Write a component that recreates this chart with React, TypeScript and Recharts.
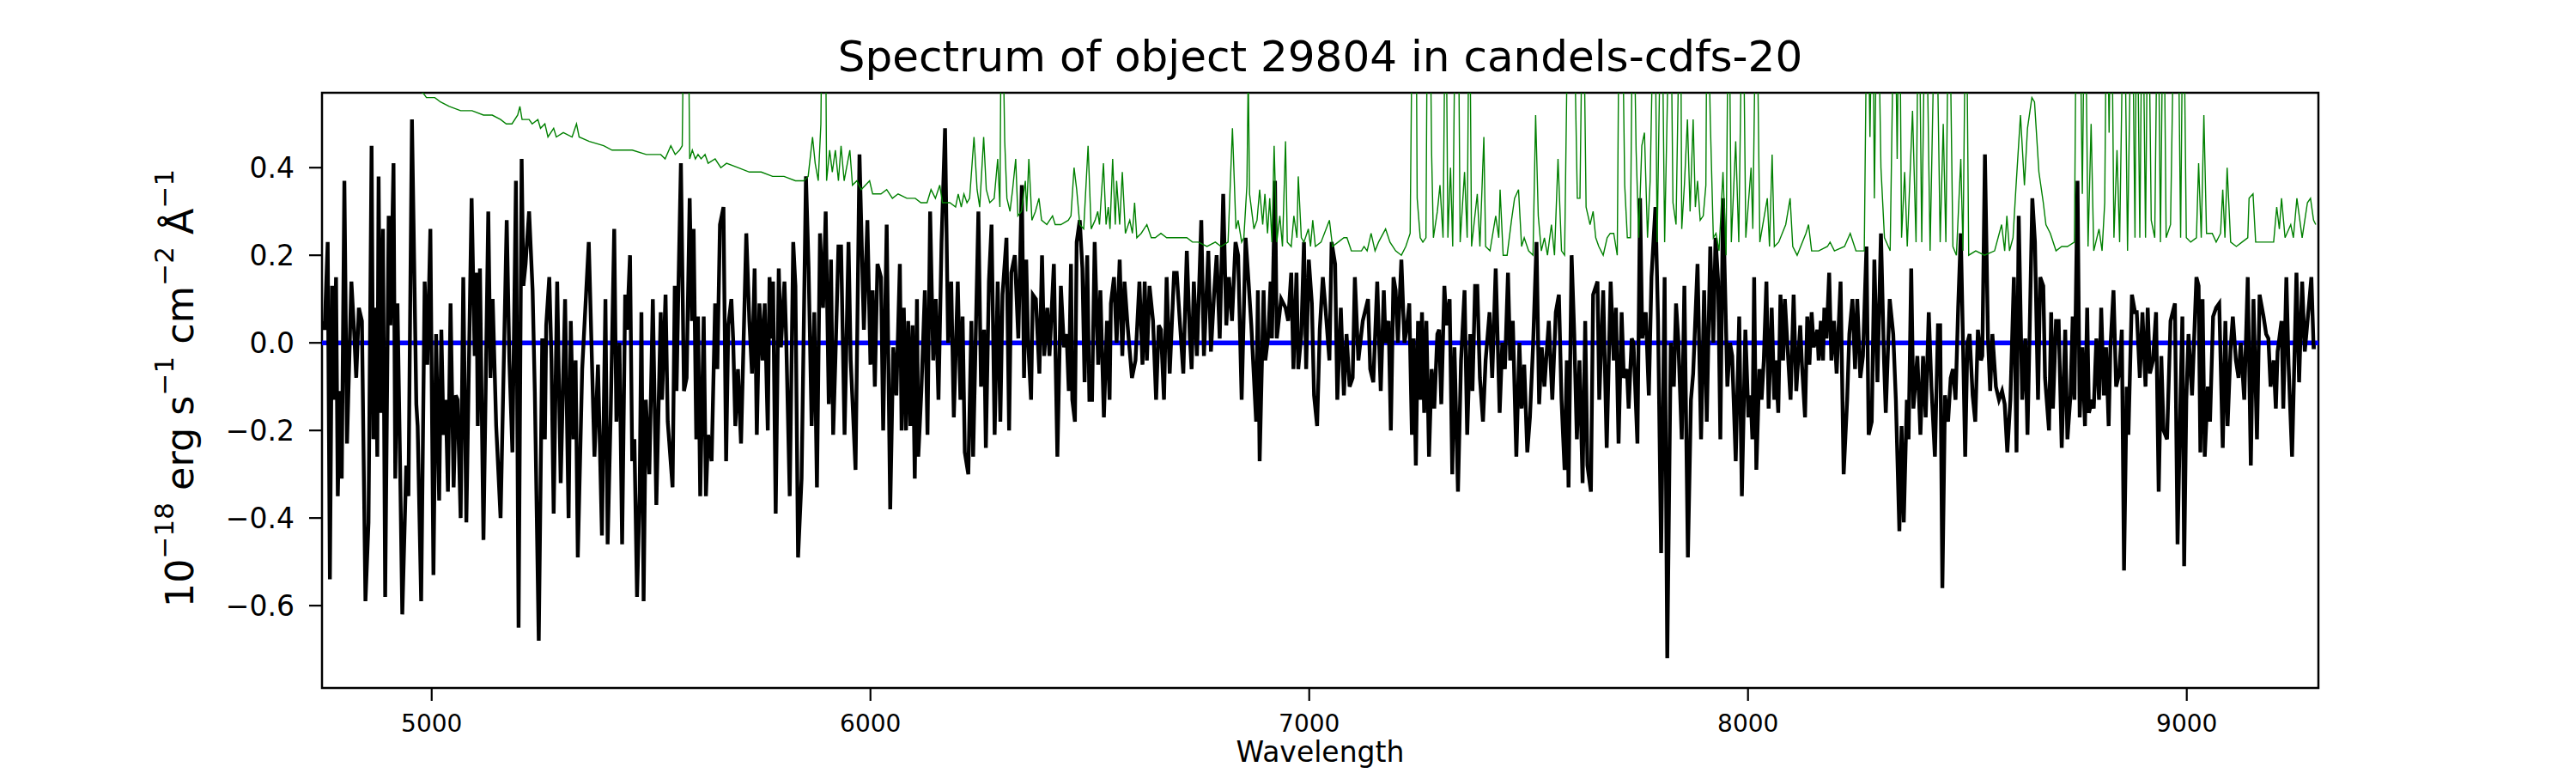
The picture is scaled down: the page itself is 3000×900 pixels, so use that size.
import { LineChart, Line, XAxis, YAxis, ReferenceArea } from "recharts";

const FONT = "DejaVu Sans";

// observed flux (black), 10^-18 erg/s/cm^2/A
const fluxWave = [
  4753, 4756, 4763, 4768, 4773, 4777, 4782, 4786, 4791, 4795,
  4801, 4807, 4817, 4823, 4828, 4834, 4841, 4849, 4856, 4863,
  4867, 4872, 4876, 4879, 4883, 4889, 4894, 4902, 4906, 4913,
  4917, 4922, 4928, 4933, 4942, 4947, 4955, 4965, 4968, 4976,
  4984, 4990, 4997, 5004, 5010, 5017, 5022, 5027, 5032, 5037,
  5043, 5050, 5055, 5059, 5066, 5072, 5079, 5091, 5098, 5102,
  5105, 5110, 5118, 5129, 5134, 5139, 5147, 5157, 5171, 5177,
  5184, 5192, 5198, 5205, 5209, 5214, 5222, 5230, 5235, 5244,
  5252, 5258, 5261, 5268, 5273, 5278, 5286, 5294, 5304, 5312,
  5317, 5323, 5328, 5333, 5343, 5358, 5371, 5379, 5388, 5396,
  5401, 5408, 5416, 5421, 5428, 5434, 5441, 5445, 5452, 5457,
  5462, 5468, 5474, 5478, 5483, 5488, 5496, 5504, 5512, 5522,
  5525, 5533, 5538,
  5549, 5554, 5558, 5562, 5568, 5575, 5581, 5588, 5593, 5597,
  5603, 5607, 5612, 5620, 5625, 5630, 5638, 5646, 5651, 5657,
  5665, 5671, 5676, 5683, 5687, 5692, 5698, 5705, 5717, 5724,
  5730, 5736, 5741, 5747, 5754, 5759, 5766, 5770, 5775, 5778,
  5784, 5791, 5796, 5804, 5808, 5816, 5824, 5829, 5835, 5843,
  5853, 5859, 5866, 5872, 5878, 5885, 5892, 5898, 5905, 5910,
  5915, 5920, 5927, 5933, 5941, 5950, 5955, 5966, 5975, 5985,
  5993, 6000, 6005, 6010, 6016, 6024, 6029, 6037, 6045, 6052,
  6059, 6067, 6071, 6076, 6081, 6086, 6091, 6096, 6101, 6106,
  6109, 6116, 6124, 6130, 6136, 6143, 6149, 6155, 6162, 6170,
  6177, 6184, 6190, 6199, 6205, 6210, 6215, 6223, 6230, 6234,
  6246, 6252, 6259, 6263, 6270, 6276, 6283, 6290, 6296, 6301,
  6310, 6316, 6321, 6329, 6337, 6345,
  6350, 6355, 6359, 6366, 6370, 6377, 6385, 6391, 6396, 6403,
  6408, 6418, 6426, 6434, 6441, 6447, 6452, 6457, 6460, 6466,
  6470, 6477, 6483, 6488, 6494, 6499, 6505, 6511, 6519, 6524,
  6532, 6539, 6545, 6548, 6555, 6561, 6568, 6574, 6579, 6586,
  6596, 6604, 6613, 6620, 6625, 6630, 6636, 6644, 6651, 6657,
  6662, 6669, 6675, 6682, 6692, 6698, 6705, 6713, 6721, 6728,
  6732, 6737, 6744, 6754, 6760, 6770, 6776, 6783, 6789, 6796,
  6804, 6811, 6817, 6824, 6832, 6838, 6846, 6855, 6861, 6868,
  6874, 6879, 6883, 6887, 6896, 6900, 6907, 6912, 6915, 6922,
  6926, 6936, 6946, 6952, 6959, 6964, 6971, 6975, 6982, 6988,
  6993, 6999, 7006, 7011, 7018, 7024, 7031, 7037, 7046, 7051,
  7059, 7064, 7072, 7079, 7085, 7092, 7099, 7104, 7112, 7122,
  7134, 7139, 7146,
  7155, 7159, 7163, 7170, 7174, 7181, 7186, 7192, 7197, 7202,
  7210, 7217, 7223, 7228, 7234, 7238, 7243, 7248, 7253, 7257,
  7262, 7267, 7273, 7279, 7285, 7292, 7296, 7301, 7308, 7313,
  7320, 7326, 7331, 7339, 7346, 7354, 7360, 7367, 7372, 7378,
  7383, 7389, 7396, 7402, 7411, 7417, 7425, 7434, 7440, 7446,
  7453, 7458, 7464, 7472, 7479, 7484, 7490, 7497, 7503, 7510,
  7518, 7524, 7530, 7536, 7546, 7554, 7562, 7569, 7575, 7582,
  7587, 7591, 7598, 7604, 7610, 7616, 7623, 7629, 7634, 7642,
  7647, 7657, 7661, 7670, 7678, 7687, 7694, 7699, 7705, 7712,
  7717, 7724, 7728, 7735, 7739, 7748, 7754, 7759, 7767, 7774,
  7780, 7789, 7795, 7802, 7810, 7816, 7824, 7831, 7836, 7841,
  7849, 7855, 7863, 7870, 7875, 7885, 7893, 7900, 7906, 7914,
  7921, 7926, 7932, 7937, 7943,
  7953, 7959, 7964, 7972, 7980, 7986, 7994, 8001, 8006, 8010,
  8014, 8019, 8026, 8031, 8036, 8042, 8047, 8054, 8060, 8063,
  8069, 8074, 8080, 8084, 8089, 8097, 8104, 8110, 8119, 8123,
  8130, 8135, 8140, 8145, 8150, 8158, 8161, 8166, 8171, 8174,
  8179, 8185, 8190, 8196, 8202, 8211, 8218, 8226, 8231, 8238,
  8244, 8249, 8256, 8262, 8270, 8275, 8282, 8288, 8295, 8303,
  8310, 8314, 8323, 8331, 8337, 8345, 8350, 8355, 8362, 8366,
  8372, 8377, 8386, 8393, 8399, 8405, 8412, 8418, 8426, 8433,
  8438, 8443, 8449, 8456, 8462, 8467, 8473, 8479, 8485, 8490,
  8495, 8500, 8505, 8512, 8518, 8524, 8531, 8534, 8540, 8547,
  8552, 8557, 8565, 8572, 8579, 8585, 8591, 8598, 8606, 8612,
  8617, 8625, 8632, 8637, 8642, 8648, 8654, 8661, 8666, 8673,
  8677, 8686, 8691, 8695, 8702, 8708, 8715, 8723, 8728, 8735,
  8740, 8744, 8751,
  8756, 8762, 8768, 8773, 8777, 8784, 8788, 8794, 8800, 8805,
  8811, 8816, 8822, 8826, 8833, 8839, 8846, 8852, 8857, 8863,
  8867, 8875, 8882, 8886, 8893, 8899, 8906, 8911, 8916, 8923,
  8930, 8936, 8942, 8947, 8955, 8963, 8973, 8979, 8986, 8990,
  8994, 8999, 9004, 9012, 9022, 9027, 9031, 9036, 9041, 9048,
  9053, 9060, 9067, 9074, 9082, 9088, 9093, 9100, 9105, 9112,
  9118, 9123, 9131, 9139, 9146, 9152, 9160, 9166, 9175, 9181,
  9186, 9191, 9198, 9203, 9207, 9216, 9220, 9227, 9232, 9240,
  9250, 9256, 9263, 9269, 9277, 9284, 9289, 9294,
];

const fluxValue = [
  0.05, 0.03, 0.23, -0.54, 0.13, -0.13, 0.15, -0.35, -0.11, -0.31,
  0.37, -0.23, 0.14, 0.03, -0.08, 0.08, 0.05, -0.59, -0.41, 0.45,
  -0.22, 0.08, -0.26, 0.38, -0.16, 0.26, -0.58, 0.29, 0.04, 0.41,
  -0.31, 0.09, -0.28, -0.62, -0.28, -0.35, 0.51, -0.14, -0.19, -0.59,
  0.14, -0.05, 0.26, -0.53, 0.02, -0.36, 0.03, -0.21, -0.13, -0.34,
  0.09, -0.33, -0.12, -0.13, -0.4, 0.15, -0.41, 0.33, -0.03, 0.16,
  -0.19, 0.17, -0.45, 0.3, -0.08, 0.1, -0.19, -0.4, 0.28, -0.04,
  -0.25, 0.37, -0.65, 0.42, 0.13, 0.18, 0.3, 0.12, -0.11, -0.68,
  0.01, -0.22, 0.04, 0.15, -0.04, -0.39, 0.14, -0.32, 0.1, -0.4,
  0.05, -0.22, -0.04, -0.49, -0.06, 0.23, -0.26, -0.05, -0.44, 0.1,
  -0.46, -0.16, 0.26, -0.18, 0.0, -0.46, 0.11, 0.03, 0.2, -0.27,
  -0.22, -0.58, -0.34, 0.07, -0.59, -0.13, -0.3, 0.1, -0.37, 0.07,
  -0.13, 0.11, -0.18,
  -0.33, 0.13, -0.11, 0.11, 0.41, -0.11, -0.08, 0.33, 0.05, 0.26,
  -0.22, 0.06, -0.35, 0.06, -0.35, -0.21, -0.27, 0.09, -0.06, 0.27,
  0.31, -0.27, 0.04, 0.1, 0.01, -0.19, -0.06, -0.23, 0.25, 0.05,
  -0.07, 0.17, -0.21, 0.09, -0.04, 0.09, -0.2, 0.15, 0.01, 0.14,
  -0.39, 0.17, -0.01, 0.14, 0.01, -0.35, 0.23, 0.13, -0.49, -0.31,
  0.38, 0.17, -0.19, 0.07, -0.33, 0.25, 0.08, 0.3, -0.14, 0.19,
  -0.21, -0.04, 0.22, 0.22, -0.21, 0.23, -0.04, -0.29, 0.43, 0.03,
  0.28, -0.05, 0.12, -0.1, 0.18, 0.15, -0.2, 0.27, -0.38, -0.01,
  -0.12, 0.18, -0.2, 0.08, -0.2, 0.05, -0.19, 0.04, -0.31, 0.1,
  -0.26, -0.11, 0.12, -0.21, 0.3, -0.04, 0.1, -0.13, 0.23, 0.49,
  0.0, 0.14, -0.17, 0.14, -0.13, 0.06, -0.25, -0.3, 0.05, -0.26,
  0.3, -0.1, 0.03, -0.24, 0.14, 0.27, -0.21, 0.14, -0.18, 0.11,
  0.24, -0.2, 0.16, 0.2, 0.01, 0.36,
  -0.08, 0.19, 0.01, -0.13, 0.11, 0.1, -0.07, 0.2, -0.03, 0.08,
  -0.03, 0.18, -0.26, 0.13, -0.01, 0.02, -0.11, 0.18, -0.13, -0.18,
  0.23, 0.28, 0.17, -0.09, 0.2, -0.13, -0.13, 0.23, -0.05, 0.12,
  -0.17, 0.05, -0.13, 0.09, 0.15, 0.0, 0.19, -0.03, 0.14, 0.04,
  -0.08, -0.04, 0.14, -0.05, 0.14, -0.04, 0.13, 0.05, -0.13, 0.04,
  0.03, -0.13, 0.15, -0.07, 0.16, 0.16, 0.05, -0.07, 0.21, 0.01,
  -0.06, 0.14, -0.03, 0.28, -0.03, 0.21, -0.02, 0.11, 0.2, 0.01,
  0.34, 0.04, 0.15, 0.05, 0.23, 0.2, -0.13, 0.24, 0.15, 0.04,
  -0.08, -0.18, 0.12, -0.27, 0.12, -0.04, 0.02, 0.14, 0.01, 0.37,
  0.01, 0.1, 0.08, 0.05, 0.16, -0.06, 0.16, -0.06, 0.02, 0.23,
  -0.06, 0.19, 0.09, -0.12, -0.19, 0.03, 0.15, 0.08, -0.04, 0.23,
  0.18, -0.13, 0.08, -0.12, 0.02, -0.1, -0.08, 0.15, -0.04, 0.05,
  0.1, -0.06, -0.09,
  0.14, 0.01, -0.11, 0.12, 0.0, 0.05, -0.2, 0.15, 0.12, 0.0,
  0.19, 0.0, 0.04, 0.09, -0.21, 0.01, -0.28, 0.05, -0.13, 0.07,
  -0.16, 0.05, -0.26, -0.06, -0.15, 0.02, 0.03, -0.14, 0.13, 0.04,
  0.1, -0.3, -0.01, -0.34, -0.04, 0.12, -0.21, 0.02, -0.11, 0.13,
  0.13, -0.08, -0.18, -0.04, 0.07, -0.08, 0.17, -0.16, 0.0, -0.06,
  0.16, -0.04, 0.05, -0.26, 0.0, -0.15, -0.05, -0.25, -0.17, -0.01,
  0.23, -0.14, -0.01, -0.1, 0.05, -0.13, 0.07, 0.11, -0.13, -0.29,
  -0.04, -0.33, 0.2, 0.02, -0.22, -0.04, -0.32, 0.05, -0.28, -0.34,
  0.11, 0.14, -0.13, 0.12, -0.24, 0.14, -0.04, 0.08, -0.23, 0.07,
  -0.08, -0.06, -0.15, 0.01, 0.0, -0.23, 0.33, 0.01, 0.07, -0.12,
  0.15, 0.31, 0.05, -0.48, 0.15, -0.72, 0.0, -0.1, 0.09, 0.01,
  -0.22, 0.13, -0.49, -0.13, -0.07, 0.18, -0.22, 0.12, -0.18, 0.22,
  0.0, 0.24, 0.14, -0.22, 0.33,
  -0.1, 0.0, -0.03, -0.27, 0.06, -0.35, 0.03, -0.17, -0.12, -0.22,
  0.15, -0.29, -0.06, -0.13, -0.04, 0.14, -0.15, 0.08, -0.13, -0.04,
  -0.16, 0.11, -0.04, 0.1, 0.01, -0.13, 0.11, -0.11, 0.04, -0.05,
  -0.17, 0.06, -0.05, 0.07, -0.01, 0.03, -0.04, 0.05, -0.04, 0.08,
  0.01, 0.16, -0.04, 0.05, -0.07, 0.14, -0.3, -0.13, 0.02, 0.1,
  -0.06, 0.1, -0.08, -0.03, 0.22, -0.21, -0.18, 0.19, -0.09, 0.25,
  -0.04, -0.16, 0.1, 0.02, -0.13, -0.43, -0.19, -0.41, -0.13, -0.22,
  0.17, -0.15, -0.03, -0.21, -0.03, -0.17, 0.07, -0.1, -0.26, 0.04,
  0.04, -0.56, -0.12, -0.18, -0.08, -0.06, -0.13, 0.08, 0.25, 0.0,
  -0.26, 0.0, 0.02, -0.12, -0.18, 0.03, -0.04, -0.03, 0.43, 0.01,
  -0.11, 0.02, -0.1, -0.13, -0.11, -0.14, -0.25, -0.13, 0.15, -0.25,
  0.29, -0.13, 0.01, -0.21, 0.03, 0.33, 0.23, -0.13, 0.15, 0.13,
  -0.08, -0.2, 0.07, -0.15, 0.05, 0.05, -0.24, 0.03, -0.22, -0.12,
  0.06, -0.13, 0.37,
  -0.17, -0.01, -0.19, 0.08, -0.16, -0.13, -0.15, 0.01, -0.13, 0.08,
  -0.12, -0.01, -0.19, -0.01, 0.12, -0.1, -0.07, 0.03, -0.52, -0.1,
  -0.21, 0.11, 0.07, 0.07, -0.08, 0.07, -0.1, 0.08, -0.07, -0.04,
  0.07, -0.34, -0.03, -0.2, -0.22, 0.05, 0.09, -0.46, -0.11, 0.06,
  -0.51, -0.13, 0.02, -0.12, 0.15, 0.13, -0.25, 0.1, -0.26, -0.1,
  -0.18, 0.06, 0.08, 0.09, -0.24, 0.05, -0.19, -0.01, 0.06, -0.04,
  -0.08, 0.0, -0.13, 0.15, -0.28, 0.1, -0.22, 0.11, 0.06, 0.02,
  0.01, -0.1, -0.04, -0.15, -0.02, 0.05, -0.15, 0.15, -0.05, -0.26,
  0.16, -0.09, 0.14, -0.02, 0.07, 0.15, -0.01, -0.01,
];

// sky / noise spectrum (green)
const skyWave = [
  4750, 4900, 4981, 4988, 5007, 5020, 5040, 5066, 5092, 5118,
  5138, 5157, 5170, 5183, 5196, 5201, 5206, 5222, 5229, 5242,
  5248, 5258, 5265, 5278, 5284, 5300, 5320, 5330, 5336, 5359,
  5392, 5411, 5431, 5457, 5489, 5522, 5532, 5545, 5555, 5565,
  5571, 5576, 5584, 5588, 5594, 5601, 5607, 5614, 5623, 5630,
  5646, 5659, 5672, 5698, 5724, 5751, 5777, 5803, 5829, 5848,
  5858, 5868, 5874, 5881, 5887, 5891, 5897, 5900, 5907, 5913,
  5920, 5927, 5933, 5940, 5953, 5959, 5969, 5979, 5998, 6005,
  6024, 6037, 6050, 6063, 6083, 6102, 6115, 6129, 6138, 6148,
  6158, 6164, 6181, 6194, 6200, 6207, 6213, 6220, 6226, 6236,
  6243, 6249, 6258, 6264, 6272, 6282, 6290, 6295, 6299, 6306,
  6311, 6318, 6324, 6331, 6336, 6344, 6353, 6356, 6361, 6368,
  6376, 6384, 6390, 6402, 6415, 6421, 6434, 6451, 6457, 6464,
  6470, 6477, 6486, 6496, 6503, 6512, 6518, 6522, 6531, 6537,
  6542, 6546, 6552, 6558, 6561, 6568, 6574, 6581, 6591, 6597,
  6602, 6607, 6617, 6630, 6640, 6649, 6662, 6675, 6695, 6708,
  6721, 6734, 6747, 6767, 6786, 6799, 6815, 6825, 6833, 6838,
  6846, 6851, 6858, 6861, 6864, 6874, 6881, 6887, 6894, 6899,
  6905, 6910, 6915, 6920, 6926, 6933, 6939, 6946, 6950, 6959,
  6965, 6972, 6975, 6982, 6988, 6998, 7003, 7008, 7014, 7027,
  7046, 7053, 7066, 7079, 7086, 7096, 7109, 7119, 7125, 7132,
  7141, 7150, 7158, 7174, 7184, 7197, 7210, 7220, 7230, 7236,
  7243, 7246, 7253, 7259, 7266, 7270, 7274, 7279, 7283, 7292,
  7298, 7305, 7311, 7316, 7322, 7327, 7334, 7339, 7344, 7354,
  7360, 7365, 7370, 7383, 7389, 7398, 7402, 7412, 7425, 7432,
  7435, 7442, 7451, 7461, 7468, 7477, 7484, 7490, 7500, 7510,
  7516, 7522, 7529, 7536, 7543, 7552, 7559, 7567, 7575, 7582,
  7591, 7601, 7611, 7617, 7624, 7631, 7640, 7647, 7653, 7660,
  7670, 7679, 7686, 7694, 7702, 7707, 7712, 7719, 7725, 7732,
  7738, 7745, 7751, 7758, 7764, 7771, 7777, 7787, 7793, 7803,
  7810, 7823, 7829, 7836, 7846, 7849, 7855, 7862, 7868, 7875,
  7880, 7885, 7891, 7898, 7904, 7907, 7914, 7921, 7927, 7934,
  7943, 7950, 7956, 7962, 7972, 7979, 7988, 7995, 8007, 8011,
  8019, 8027, 8044, 8049, 8055, 8060, 8070, 8086, 8096, 8102,
  8112, 8132, 8138, 8145, 8161, 8181, 8187, 8197, 8220, 8233,
  8246, 8265, 8272, 8278, 8284, 8288, 8295, 8303, 8311, 8324,
  8334, 8340, 8345, 8350, 8357, 8363, 8375, 8383, 8389, 8396,
  8405, 8415, 8428, 8438, 8445, 8451, 8458, 8467, 8475, 8485,
  8490, 8497, 8503, 8519, 8539, 8562, 8578, 8585, 8590, 8596,
  8604, 8611, 8621, 8630, 8637, 8647, 8653, 8663, 8673, 8679,
  8689, 8702, 8715, 8728, 8744, 8749, 8755, 8762, 8768, 8775,
  8782, 8788, 8800, 8807, 8813, 8818, 8823, 8828, 8834, 8841,
  8847, 8857, 8865, 8875, 8882, 8886, 8893, 8899, 8906, 8912,
  8919, 8927, 8934, 8940, 8947, 8953, 8963, 8973, 8979, 8986,
  8992, 8999, 9009, 9022, 9027, 9033, 9039, 9045, 9058, 9067,
  9077, 9082, 9087, 9092, 9100, 9113, 9126, 9139, 9142, 9151,
  9157, 9178, 9198, 9205, 9211, 9216, 9224, 9237, 9243, 9251,
  9263, 9275, 9282, 9289, 9294,
];

const skyValue = [
  0.7, 0.61, 0.57, 0.56, 0.56, 0.55, 0.54, 0.53, 0.53, 0.52,
  0.52, 0.51, 0.5, 0.5, 0.52, 0.54, 0.51, 0.51, 0.5, 0.51,
  0.49, 0.5, 0.47, 0.49, 0.47, 0.48, 0.47, 0.5, 0.47, 0.46,
  0.45, 0.44, 0.44, 0.44, 0.43, 0.43, 0.42, 0.45, 0.43, 0.44,
  0.45, 0.9, 0.85, 0.42, 0.44, 0.42, 0.43, 0.42, 0.43, 0.41,
  0.42, 0.4, 0.41, 0.4, 0.39, 0.39, 0.38, 0.38, 0.37, 0.37,
  0.38, 0.47, 0.41, 0.37, 0.5, 0.9, 0.85, 0.37, 0.44, 0.39,
  0.44, 0.37, 0.45, 0.37, 0.44, 0.36, 0.37, 0.35, 0.37, 0.34,
  0.34, 0.35, 0.33, 0.34, 0.33, 0.33, 0.32, 0.32, 0.35, 0.33,
  0.36, 0.32, 0.32, 0.31, 0.34, 0.31, 0.34, 0.32, 0.33, 0.47,
  0.35, 0.31, 0.47, 0.35, 0.32, 0.33, 0.42, 0.31, 0.9, 0.46,
  0.33, 0.3, 0.35, 0.42, 0.29, 0.3, 0.37, 0.3, 0.42, 0.28,
  0.3, 0.33, 0.28, 0.27, 0.29, 0.27, 0.27, 0.28, 0.29, 0.4,
  0.35, 0.27, 0.26, 0.45, 0.26, 0.28, 0.3, 0.27, 0.41, 0.27,
  0.31, 0.26, 0.42, 0.27, 0.37, 0.27, 0.39, 0.25, 0.28, 0.25,
  0.32, 0.24, 0.25, 0.27, 0.24, 0.24, 0.25, 0.24, 0.24, 0.24,
  0.24, 0.23, 0.23, 0.22, 0.23, 0.22, 0.23, 0.49, 0.26, 0.28,
  0.23, 0.24, 0.36, 0.62, 0.34, 0.26, 0.28, 0.35, 0.27, 0.34,
  0.25, 0.33, 0.23, 0.45, 0.23, 0.29, 0.22, 0.46, 0.23, 0.22,
  0.29, 0.24, 0.38, 0.24, 0.23, 0.26, 0.22, 0.28, 0.22, 0.23,
  0.28, 0.22, 0.23, 0.24, 0.24, 0.21, 0.21, 0.21, 0.22, 0.21,
  0.25, 0.21, 0.23, 0.26, 0.23, 0.21, 0.2, 0.22, 0.25, 0.9,
  0.9, 0.33, 0.24, 0.23, 0.24, 0.9, 0.9, 0.43, 0.24, 0.3,
  0.36, 0.24, 0.9, 0.24, 0.4, 0.22, 0.9, 0.9, 0.23, 0.39,
  0.24, 0.9, 0.22, 0.34, 0.22, 0.47, 0.22, 0.21, 0.29, 0.24,
  0.35, 0.2, 0.2, 0.28, 0.33, 0.35, 0.22, 0.24, 0.21, 0.2,
  0.52, 0.29, 0.21, 0.24, 0.2, 0.27, 0.2, 0.42, 0.21, 0.2,
  0.9, 0.9, 0.33, 0.33, 0.9, 0.31, 0.27, 0.3, 0.24, 0.22,
  0.2, 0.24, 0.25, 0.25, 0.2, 0.9, 0.9, 0.36, 0.24, 0.24,
  0.9, 0.44, 0.24, 0.45, 0.48, 0.24, 0.37, 0.9, 0.23, 0.9,
  0.23, 0.9, 0.32, 0.27, 0.9, 0.26, 0.36, 0.51, 0.3, 0.51,
  0.31, 0.37, 0.28, 0.29, 0.36, 0.9, 0.51, 0.24, 0.25, 0.21,
  0.39, 0.2, 0.9, 0.23, 0.46, 0.23, 0.9, 0.24, 0.4, 0.26,
  0.9, 0.23, 0.33, 0.22, 0.43, 0.22, 0.23, 0.27, 0.33, 0.22,
  0.2, 0.25, 0.27, 0.21, 0.21, 0.22, 0.23, 0.21, 0.22, 0.25,
  0.21, 0.21, 0.9, 0.47, 0.9, 0.33, 0.9, 0.4, 0.24, 0.21,
  0.9, 0.42, 0.9, 0.24, 0.39, 0.22, 0.53, 0.23, 0.9, 0.23,
  0.9, 0.21, 0.9, 0.23, 0.5, 0.23, 0.9, 0.22, 0.2, 0.42,
  0.21, 0.9, 0.2, 0.21, 0.2, 0.21, 0.27, 0.21, 0.29, 0.21,
  0.24, 0.36, 0.52, 0.36, 0.49, 0.56, 0.55, 0.39, 0.32, 0.27,
  0.25, 0.21, 0.22, 0.22, 0.23, 0.9, 0.9, 0.34, 0.9, 0.22,
  0.5, 0.21, 0.26, 0.21, 0.32, 0.9, 0.48, 0.9, 0.24, 0.44,
  0.23, 0.9, 0.21, 0.9, 0.24, 0.9, 0.24, 0.9, 0.24, 0.9,
  0.28, 0.24, 0.9, 0.23, 0.9, 0.24, 0.27, 0.9, 0.9, 0.24,
  0.9, 0.24, 0.23, 0.24, 0.41, 0.24, 0.52, 0.25, 0.25, 0.23,
  0.25, 0.35, 0.24, 0.4, 0.23, 0.22, 0.23, 0.24, 0.33, 0.34,
  0.23, 0.23, 0.23, 0.31, 0.26, 0.33, 0.24, 0.27, 0.24, 0.33,
  0.24, 0.32, 0.33, 0.28, 0.27,
];

// zero level (blue)
const zeroWave = [4750, 9300];
const zeroValue = [0, 0];

const xTicks = [5000, 6000, 7000, 8000, 9000];
const yTicks = [-0.6, -0.4, -0.2, 0, 0.2, 0.4];
const xDomain = [4750, 9300];
const yDomain = [-0.788, 0.571];

const toPoints = (wave: number[], value: number[]) =>
  wave.slice(0, Math.min(wave.length, value.length)).map((w, i) => ({ w, v: value[i] }));

const fluxData = toPoints(fluxWave, fluxValue);
const skyData = toPoints(skyWave, skyValue);
const zeroData = toPoints(zeroWave, zeroValue);

const fmtY = (v: number) => v.toFixed(1).replace("-", "\u2212");

export default function App() {
  const sup = { fontSize: 31 };
  return (
    <div style={{ position: "absolute", left: 0, top: 0, width: 3000, height: 900, background: "#fff" }}>
      <LineChart width={3000} height={900} margin={{ top: 108, right: 300, bottom: 19, left: 255 }}>
        <XAxis
          type="number"
          dataKey="w"
          domain={xDomain}
          ticks={xTicks}
          allowDataOverflow
          height={80}
          tickSize={15}
          tickMargin={16}
          axisLine={false}
          tickLine={{ stroke: "#000", strokeWidth: 2.2 }}
          tick={{ fill: "#000", fontSize: 28, fontFamily: FONT }}
        />
        <YAxis
          type="number"
          domain={yDomain}
          ticks={yTicks}
          allowDataOverflow
          width={120}
          tickSize={15}
          tickMargin={17}
          axisLine={false}
          tickFormatter={fmtY}
          tickLine={{ stroke: "#000", strokeWidth: 2.2 }}
          tick={{ fill: "#000", fontSize: 33, fontFamily: FONT }}
        />
        <Line data={zeroData} dataKey="v" type="linear" stroke="#0000ff" strokeWidth={5.5} dot={false} activeDot={false} isAnimationActive={false} />
        <Line data={fluxData} dataKey="v" type="linear" stroke="#000000" strokeWidth={4.4} dot={false} activeDot={false} isAnimationActive={false} />
        <Line data={skyData} dataKey="v" type="linear" stroke="#008000" strokeWidth={1.4} dot={false} activeDot={false} isAnimationActive={false} />
        <ReferenceArea x1={xDomain[0]} x2={xDomain[1]} y1={yDomain[0]} y2={yDomain[1]} fill="none" stroke="#000" strokeWidth={2.5} ifOverflow="visible" />
      </LineChart>
      <svg width={3000} height={900} style={{ position: "absolute", left: 0, top: 0, pointerEvents: "none" }}>
        <text x={1537.5} y={83} textAnchor="middle" fontSize={50} fontFamily={FONT} fill="#000">
          Spectrum of object 29804 in candels-cdfs-20
        </text>
        <text x={1537.5} y={887} textAnchor="middle" fontSize={33} fontFamily={FONT} fill="#000">
          Wavelength
        </text>
        <text x={225} y={452} transform="rotate(-90, 225, 452)" textAnchor="middle" fontSize={44.5} fontFamily={FONT} fill="#000">
          <tspan>10</tspan>
          <tspan dy={-23} {...sup}>{"\u221218"}</tspan>
          <tspan dy={23}> erg s</tspan>
          <tspan dy={-23} {...sup}>{"\u22121"}</tspan>
          <tspan dy={23}> cm</tspan>
          <tspan dy={-23} {...sup}>{"\u22122"}</tspan>
          <tspan dy={23}> Å</tspan>
          <tspan dy={-23} {...sup}>{"\u22121"}</tspan>
        </text>
      </svg>
    </div>
  );
}
